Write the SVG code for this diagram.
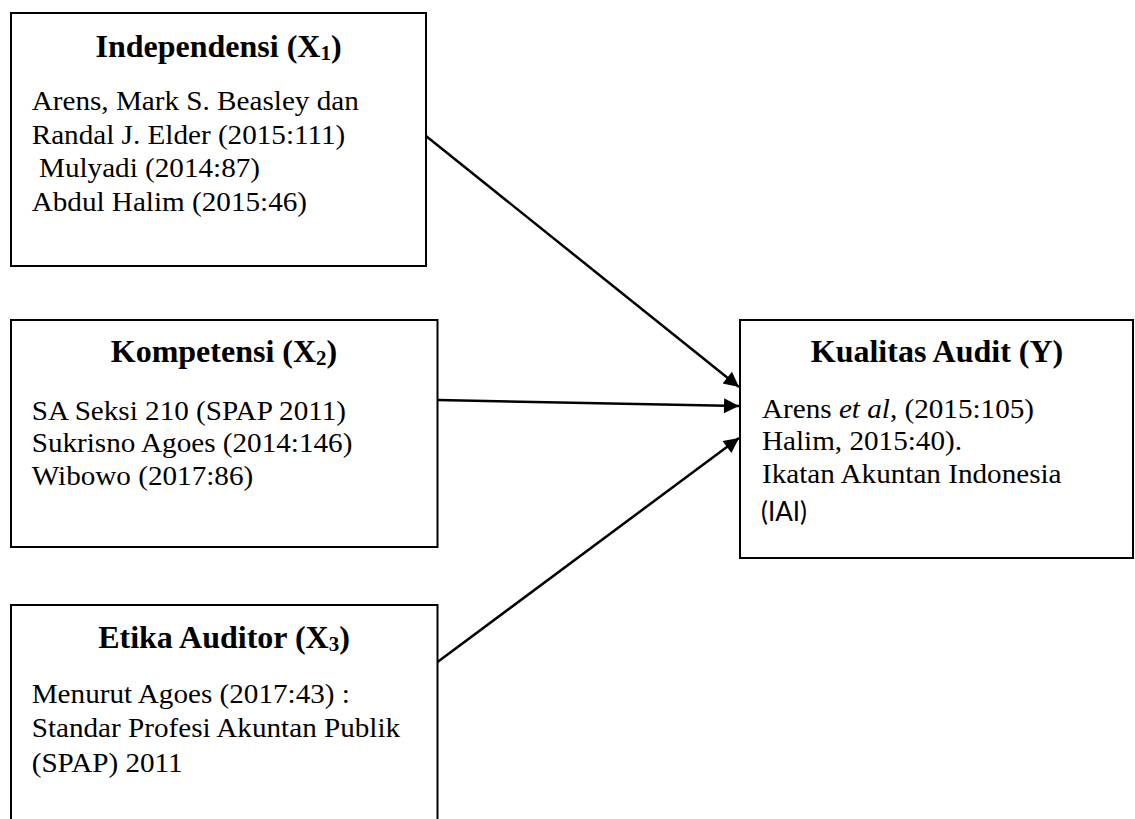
<svg xmlns="http://www.w3.org/2000/svg" width="1135" height="819" viewBox="0 0 1135 819">
<style>
.box{fill:#fff;stroke:#000;stroke-width:2}
.t{font-family:"Liberation Serif","Times New Roman",serif;font-weight:bold;font-size:32px;text-anchor:middle;fill:#000}
.b{font-family:"Liberation Serif","Times New Roman",serif;font-size:27px;fill:#000}
.s{font-family:Lato,"Open Sans",sans-serif;font-size:26px;fill:#000}
.sub{font-size:21px}
.c{stroke:#000;stroke-width:2.5;fill:none}
</style>
<defs>
<marker id="ah" viewBox="0 0 10 10" refX="10" refY="5" markerWidth="7" markerHeight="6" markerUnits="strokeWidth" orient="auto">
<path d="M0,0 L10,5 L0,10 z" fill="#000"/>
</marker>
</defs>
<rect width="1135" height="819" fill="#fff"/>
<g id="node-x1">
<rect class="box" x="11" y="13" width="415" height="253"/>
<text class="t" x="218.5" y="57">Independensi (X<tspan class="sub" dy="3">1</tspan><tspan dy="-3">)</tspan></text>
<text class="b" transform="translate(31.7,110) scale(1.08,1)">Arens, Mark S. Beasley dan</text>
<text class="b" transform="translate(31.7,144) scale(1.08,1)">Randal J. Elder (2015:111)</text>
<text class="b" transform="translate(31.7,177) scale(1.08,1)" xml:space="preserve"> Mulyadi (2014:87)</text>
<text class="b" transform="translate(31.7,211) scale(1.08,1)">Abdul Halim (2015:46)</text>
</g>
<g id="node-x2">
<rect class="box" x="11" y="320" width="426.5" height="227"/>
<text class="t" x="224" y="362">Kompetensi (X<tspan class="sub" dy="3">2</tspan><tspan dy="-3">)</tspan></text>
<text class="b" transform="translate(31.7,420) scale(1.08,1)">SA Seksi 210 (SPAP 2011)</text>
<text class="b" transform="translate(31.7,452) scale(1.08,1)">Sukrisno Agoes (2014:146)</text>
<text class="b" transform="translate(31.7,485) scale(1.08,1)">Wibowo (2017:86)</text>
</g>
<g id="node-x3">
<rect class="box" x="11" y="605" width="426.5" height="230"/>
<text class="t" x="224" y="648">Etika Auditor (X<tspan class="sub" dy="3">3</tspan><tspan dy="-3">)</tspan></text>
<text class="b" transform="translate(31.7,703) scale(1.08,1)">Menurut Agoes (2017:43) :</text>
<text class="b" transform="translate(31.7,737) scale(1.08,1)">Standar Profesi Akuntan Publik</text>
<text class="b" transform="translate(31.7,772) scale(1.08,1)">(SPAP) 2011</text>
</g>
<g id="node-y">
<rect class="box" x="740" y="320" width="393" height="238"/>
<text class="t" x="937" y="362">Kualitas Audit (Y)</text>
<text class="b" transform="translate(762,418) scale(1.08,1)">Arens <tspan font-style="italic">et al</tspan>, (2015:105)</text>
<text class="b" transform="translate(762,450) scale(1.08,1)">Halim, 2015:40).</text>
<text class="b" transform="translate(762,483) scale(1.08,1)">Ikatan Akuntan Indonesia</text>
<text class="s" x="761" y="521">(IAI)</text>
</g>
<g id="connectors">
<line class="c" x1="426" y1="136" x2="739" y2="387" marker-end="url(#ah)"/>
<line class="c" x1="437.5" y1="400" x2="739" y2="406" marker-end="url(#ah)"/>
<line class="c" x1="437.5" y1="662" x2="739" y2="438" marker-end="url(#ah)"/>
</g>
</svg>
